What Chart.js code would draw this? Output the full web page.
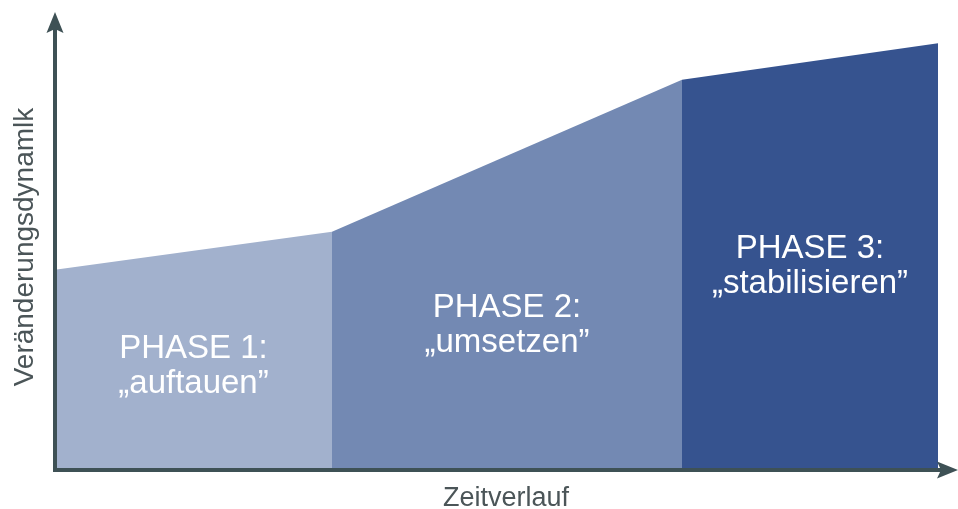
<!DOCTYPE html>
<html>
<head>
<meta charset="utf-8">
<script src="https://cdn.jsdelivr.net/npm/chart.js@4"></script>
<style>
  html, body { margin: 0; padding: 0; background: #fff; }
  #wrap { width: 958px; height: 509px; }
</style>
</head>
<body>
<div id="wrap"><canvas id="chart"></canvas></div>
<script>
// Phasen (Zeitachse 0..90, Dynamik 0..100)
const phaseStart = [0, 27.7, 62.7];
const phaseEnd = [27.7, 62.7, 88.3];
const levelStart = [43.7, 52.0, 85.2];
const levelEnd = [52.0, 85.2, 93.2];
const phaseTitles = ['PHASE 1:', 'PHASE 2:', 'PHASE 3:'];
const phaseNames = ['\u201Eauftauen\u201D', '\u201Eumsetzen\u201D', '\u201Estabilisieren\u201D'];
const phaseColors = ['#a2b1cd', '#7389b3', '#36538f'];
const xTitle = 'Zeitverlauf';
const yTitle = 'Veränderungsdynamlk';

// Grundlinie der ersten Textzeile je Phase (in y-Einheiten)
const labelLevel = [24.5, 33.4, 46.3];

const datasets = phaseTitles.map((t, i) => ({
  label: t,
  data: [{ x: phaseStart[i], y: levelStart[i] }, { x: phaseEnd[i], y: levelEnd[i] }],
  fill: 'origin',
  backgroundColor: phaseColors[i],
  borderWidth: 0,
  pointRadius: 0,
  tension: 0
}));

const axisColor = '#3e5155';
const textColor = '#4b5558';

// Achsen mit Pfeilen, Achsentitel und Phasenbeschriftung
const decor = {
  id: 'decor',
  afterDatasetsDraw(chart) {
    const { ctx, chartArea: a, scales } = chart;
    const x = scales.x, y = scales.y;
    const tipX = a.right + 3;

    ctx.save();
    ctx.fillStyle = '#ffffff';
    ctx.textAlign = 'center';
    ctx.textBaseline = 'alphabetic';
    ctx.font = '33px "Liberation Sans", Arial, sans-serif';
    phaseTitles.forEach((t, i) => {
      const cx = (x.getPixelForValue(phaseStart[i]) + x.getPixelForValue(phaseEnd[i])) / 2;
      const by = y.getPixelForValue(labelLevel[i]);
      ctx.fillText(t, cx, by);
      ctx.fillText(phaseNames[i], cx, by + 35);
    });

    // Achsen
    ctx.strokeStyle = axisColor;
    ctx.fillStyle = axisColor;
    ctx.lineWidth = 4;
    ctx.lineCap = 'butt';
    ctx.beginPath();
    ctx.moveTo(a.left, a.bottom + 2);
    ctx.lineTo(a.left, a.top + 14);
    ctx.moveTo(a.left - 2, a.bottom);
    ctx.lineTo(tipX - 14, a.bottom);
    ctx.stroke();

    // Pfeilspitzen
    ctx.beginPath();
    ctx.moveTo(a.left, a.top);
    ctx.lineTo(a.left - 8.5, a.top + 21);
    ctx.lineTo(a.left, a.top + 17);
    ctx.lineTo(a.left + 8.5, a.top + 21);
    ctx.closePath();
    ctx.fill();
    ctx.beginPath();
    ctx.moveTo(tipX, a.bottom);
    ctx.lineTo(tipX - 21, a.bottom - 8.5);
    ctx.lineTo(tipX - 17, a.bottom);
    ctx.lineTo(tipX - 21, a.bottom + 8.5);
    ctx.closePath();
    ctx.fill();

    // Achsentitel
    ctx.fillStyle = textColor;
    ctx.font = '27px "Liberation Sans", Arial, sans-serif';
    ctx.textAlign = 'center';
    ctx.fillText(xTitle, 506, a.bottom + 36);
    ctx.translate(33, 247);
    ctx.rotate(-Math.PI / 2);
    ctx.font = '28px "Liberation Sans", Arial, sans-serif';
    ctx.fillText(yTitle, 0, 0);
    ctx.restore();
  }
};

new Chart(document.getElementById('chart'), {
  type: 'line',
  data: { datasets },
  options: {
    responsive: true,
    maintainAspectRatio: false,
    animation: false,
    layout: { padding: { left: 55, right: 3, top: 12, bottom: 39 } },
    scales: {
      x: { type: 'linear', min: 0, max: 90, display: false },
      y: { min: 0, max: 100, display: false }
    },
    plugins: {
      legend: { display: false },
      tooltip: { enabled: false }
    }
  },
  plugins: [decor]
});
</script>
</body>
</html>
